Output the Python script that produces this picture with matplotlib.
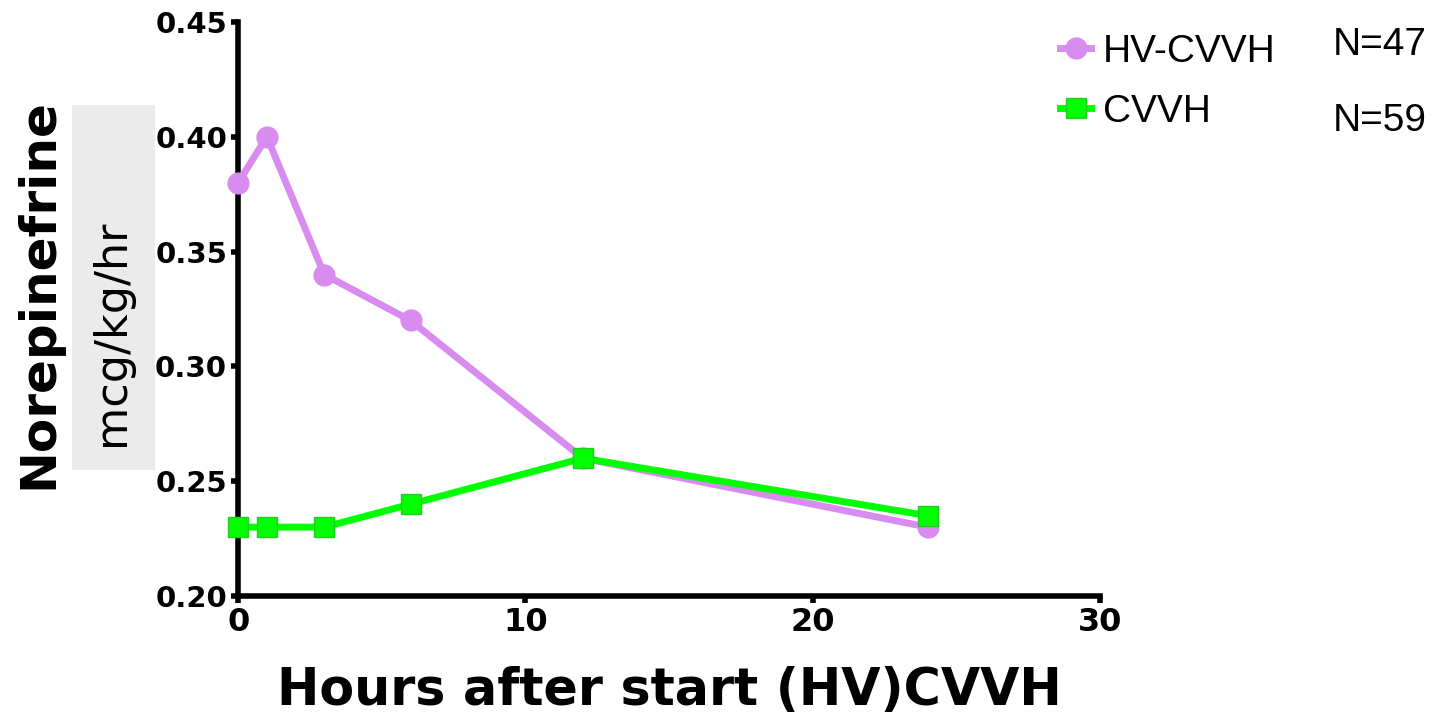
import numpy as np
import matplotlib.pyplot as plt

# hours after start and norepinephrine dose (mcg/kg/hr)
hours = [0, 1, 3, 6, 12, 24]
hv_cvvh = [0.38, 0.40, 0.34, 0.32, 0.26, 0.23]
cvvh = [0.23, 0.23, 0.23, 0.24, 0.26, 0.235]
series_names = ['HV-CVVH', 'CVVH']
n_labels = ['N=47', 'N=59']
x_ticks = [0, 10, 20, 30]
y_ticks = [0.20, 0.25, 0.30, 0.35, 0.40, 0.45]

plt.rcParams['font.family'] = ['Liberation Sans', 'DejaVu Sans']

purple = '#d98cf0'
green = '#00ff00'
bold_font = {'family': 'DejaVu Sans', 'weight': 'bold'}

fig = plt.figure(figsize=(14.52, 7.22), dpi=100)
ax = fig.add_axes([0.164, 0.1745, 0.5936, 0.795])

ax.plot(hours, hv_cvvh, color=purple, lw=5, marker='o', ms=15,
        mec=purple, label=series_names[0], clip_on=False, zorder=3)
ax.plot(hours, cvvh, color=green, lw=5, marker='s', ms=15,
        mec='#22cc22', mew=1, label=series_names[1], clip_on=False, zorder=4)

ax.set_xlim(0, 30)
ax.set_ylim(0.20, 0.45)
ax.set_xticks(x_ticks)
ax.set_yticks(y_ticks)
ax.set_yticklabels([f'{v:.2f}' for v in y_ticks])

for s in ['top', 'right']:
    ax.spines[s].set_visible(False)
for s in ['left', 'bottom']:
    ax.spines[s].set_linewidth(4)
ax.tick_params(width=4, length=5, direction='out', pad=3)
for lab in ax.get_yticklabels():
    lab.set_fontproperties(bold_font)
    lab.set_fontsize(21)
for lab in ax.get_xticklabels():
    lab.set_fontproperties(bold_font)
    lab.set_fontsize(23)

ax.set_xlabel('Hours after start (HV)CVVH', fontsize=36.5, labelpad=20, **bold_font)

# y label with grey unit box
fig.text(0.0262, 0.593, 'Norepinefrine', rotation=90, fontsize=36,
         ha='center', va='center', **bold_font)
fig.patches.append(plt.Rectangle((0.0496, 0.349), 0.0572, 0.5055, transform=fig.transFigure,
                                 facecolor='#ebebeb', edgecolor='none', zorder=0))
fig.text(0.0771, 0.5388, 'mcg/kg/hr', rotation=90, fontsize=32, family='DejaVu Sans',
         ha='center', va='center')

leg = fig.legend(loc='upper left', bbox_to_anchor=(0.706, 1.002), frameon=False,
                 fontsize=28, handlelength=0.8, handletextpad=0.3, labelspacing=0.62,
                 markerscale=1.0)
fig.text(0.918, 0.937, n_labels[0], fontsize=28, va='center')
fig.text(0.918, 0.833, n_labels[1], fontsize=28, va='center')

fig.savefig('out.png', dpi=100)
